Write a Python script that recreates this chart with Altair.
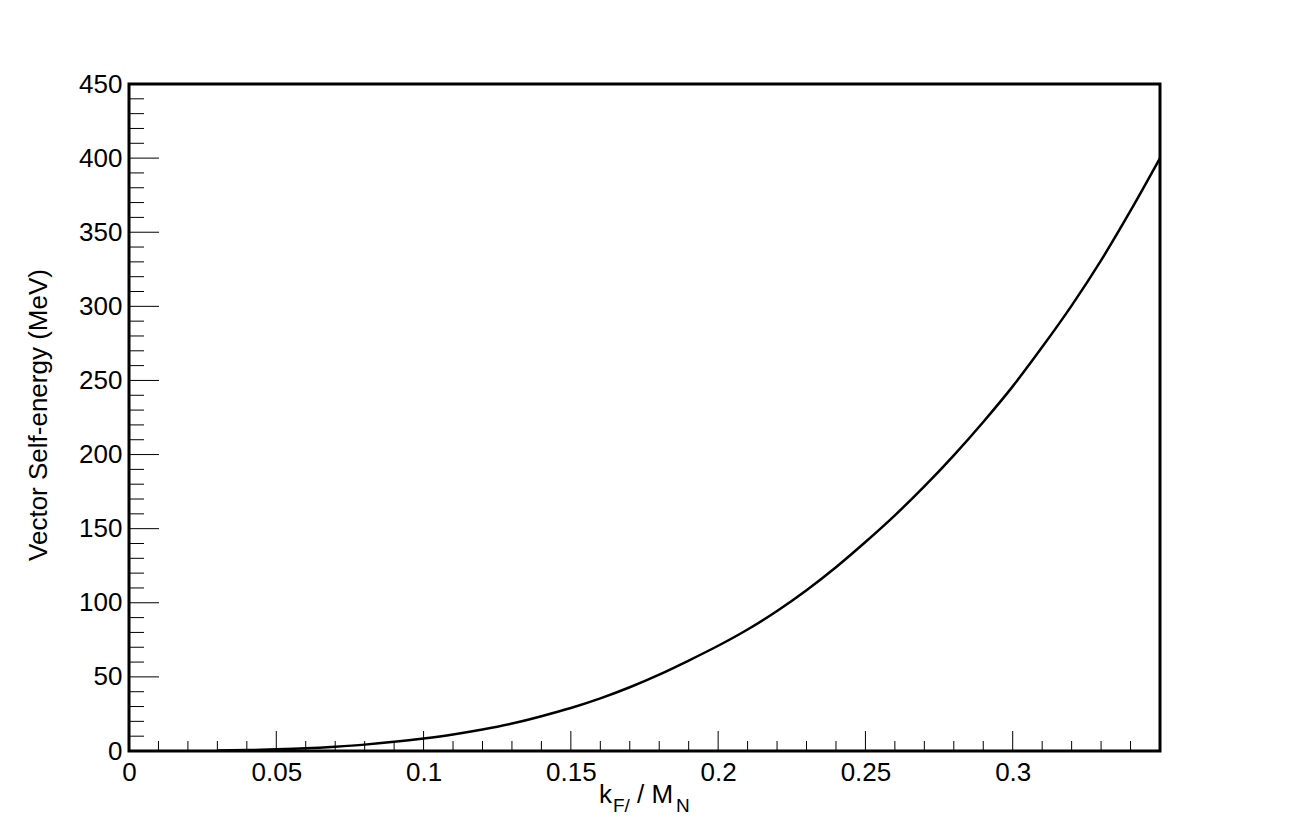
import altair as alt
import pandas as pd

# Curve
kf = [0.03, 0.04, 0.05, 0.06, 0.07, 0.08, 0.09, 0.10, 0.11, 0.12, 0.13, 0.14,
      0.15, 0.16, 0.17, 0.18, 0.19, 0.20, 0.21, 0.22, 0.23, 0.24, 0.25, 0.26,
      0.27, 0.28, 0.29, 0.30, 0.31, 0.32, 0.33, 0.34, 0.35]
sigma_v = [0.3, 0.6, 1.1, 1.8, 2.9, 4.3, 6.2, 8.5, 11.2, 14.5, 18.5, 23.5,
           29.0, 35.5, 43.0, 51.5, 61.0, 71.0, 82.0, 94.5, 108.5, 124.0, 141.0, 159.0,
           178.5, 199.5, 222.0, 246.0, 272.5, 300.5, 331.0, 364.5, 400.0]

x_major = [0, 0.05, 0.1, 0.15, 0.2, 0.25, 0.3]
x_minor = [0.01, 0.02, 0.03, 0.04, 0.06, 0.07, 0.08, 0.09, 0.11, 0.12, 0.13, 0.14,
           0.16, 0.17, 0.18, 0.19, 0.21, 0.22, 0.23, 0.24, 0.26, 0.27, 0.28, 0.29,
           0.31, 0.32, 0.33, 0.34]
y_major = [0, 50, 100, 150, 200, 250, 300, 350, 400, 450]
y_minor = [v + d for v in range(0, 450, 50) for d in (10, 20, 30, 40)]

W, H = 1031, 667
FONT = "Liberation Sans"

xs = alt.Scale(domain=[0, 0.35], nice=False, zero=False)
ys = alt.Scale(domain=[0, 450], nice=False, zero=False)

curve_df = pd.DataFrame({"kf": kf, "sv": sigma_v})

curve = alt.Chart(curve_df).mark_line(color="black", strokeWidth=2.5, interpolate="monotone").encode(
    x=alt.X("kf:Q", scale=xs,
            axis=alt.Axis(values=x_major, format="~g", title=None, domain=False,
                          ticks=False, grid=False, labelFont=FONT, labelFontSize=26,
                          labelColor="black", labelPadding=8, labelFlush=False)),
    y=alt.Y("sv:Q", scale=ys,
            axis=alt.Axis(values=y_major, format="d", title="Vector Self-energy (MeV)",
                          domain=False, ticks=False, grid=False, labelFont=FONT,
                          labelFontSize=26, labelColor="black", labelPadding=7,
                          labelFlush=False, titleFont=FONT, titleFontSize=26,
                          titleFontWeight="normal", titleColor="black",
                          titleAngle=-90, titleX=-91, titleY=H / 2 - 3,
                          titleAlign="center", titleBaseline="middle")),
)

xmaj = alt.Chart(pd.DataFrame({"t": x_major})).mark_rule(color="black", strokeWidth=1).encode(
    x=alt.X("t:Q", scale=xs), y=alt.value(H), y2=alt.value(H - 20))
xmin = alt.Chart(pd.DataFrame({"t": x_minor})).mark_rule(color="black", strokeWidth=1).encode(
    x=alt.X("t:Q", scale=xs), y=alt.value(H), y2=alt.value(H - 10))
ymaj = alt.Chart(pd.DataFrame({"t": y_major})).mark_rule(color="black", strokeWidth=1).encode(
    y=alt.Y("t:Q", scale=ys), x=alt.value(0), x2=alt.value(30))
ymin = alt.Chart(pd.DataFrame({"t": y_minor})).mark_rule(color="black", strokeWidth=1).encode(
    y=alt.Y("t:Q", scale=ys), x=alt.value(0), x2=alt.value(15))

def txt(s, x, y, size):
    return alt.Chart(pd.DataFrame({"s": [s]})).mark_text(
        font=FONT, fontSize=size, color="black", align="left", baseline="alphabetic"
    ).encode(text="s:N", x=alt.value(x), y=alt.value(y))

title_parts = [
    txt("k", 470, 719, 26),
    txt("F/", 484, 728, 19),
    txt("/ M", 508, 719, 26),
    txt("N", 547, 728, 19),
]

chart = alt.layer(curve, xmaj, xmin, ymaj, ymin, *title_parts).properties(
    width=W, height=H,
    autosize=alt.AutoSizeParams(type="none"),
    padding={"left": 121, "top": 76, "right": 110, "bottom": 70},
).configure(
    background="white",
    view=alt.ViewConfig(stroke="black", strokeWidth=3),
)

chart.save("out.html", embed_options={"renderer": "svg", "actions": False})
